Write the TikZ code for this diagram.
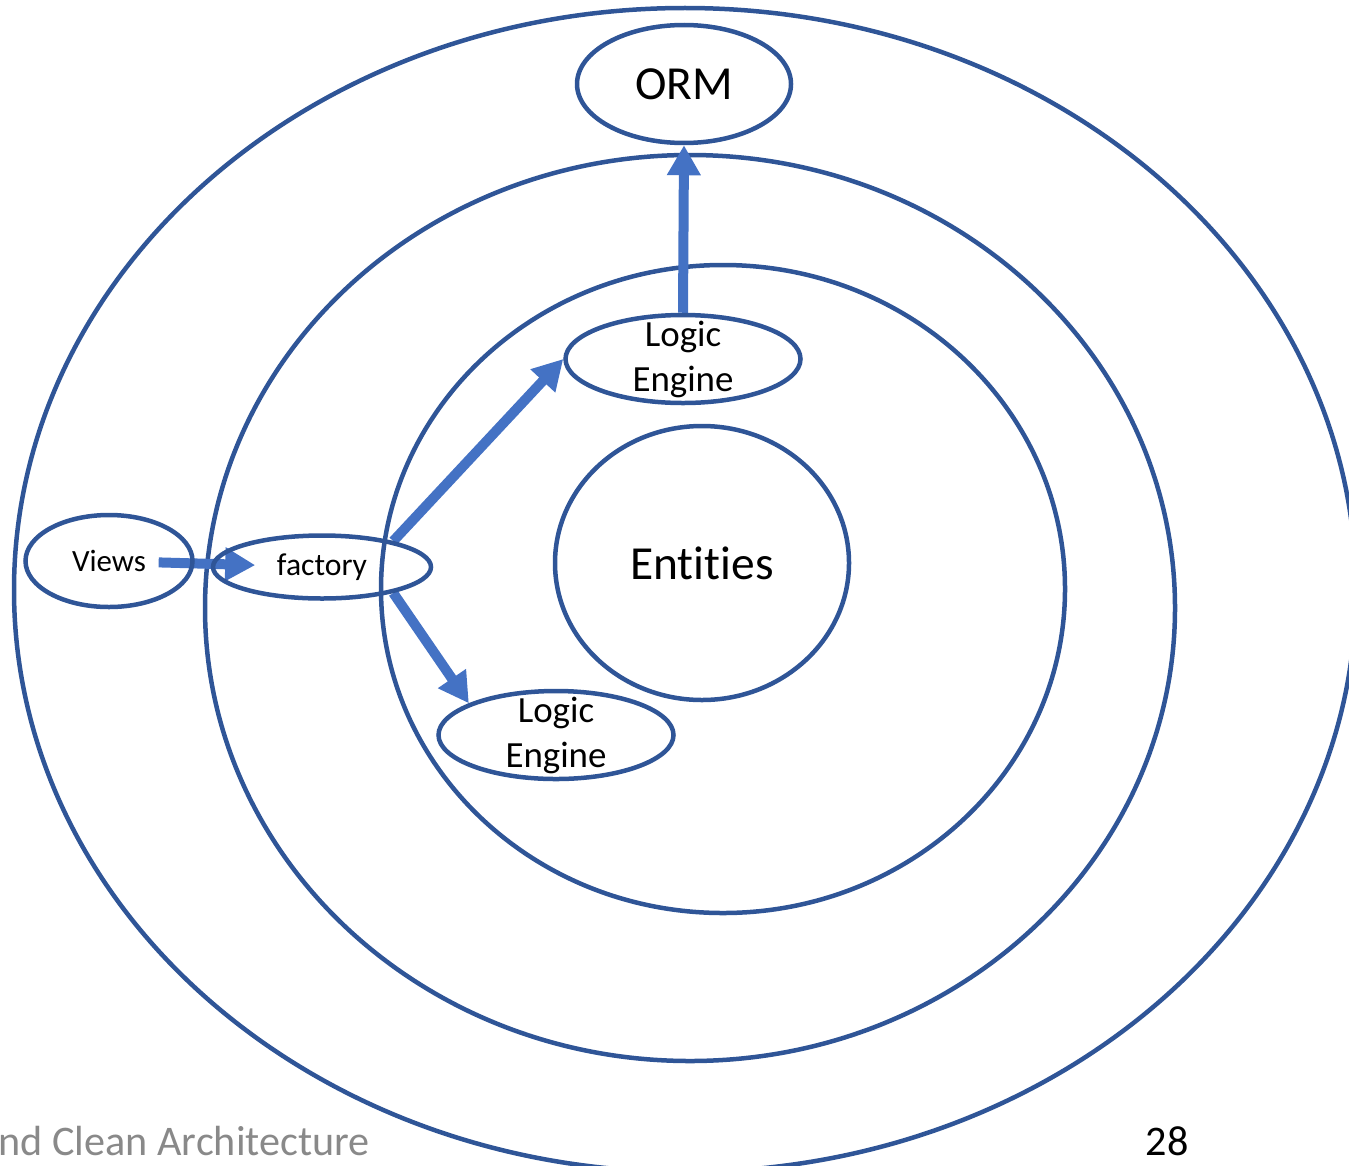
\documentclass[tikz,border=0pt]{standalone}
\usepackage{fontspec}
\setmainfont{Carlito}[Ligatures={NoCommon,NoContextual}]
\usepackage{xcolor}
\usepackage{tikz}
\usetikzlibrary{
  shapes.geometric, arrows.meta, positioning, backgrounds
}
\definecolor{ringblue}{HTML}{2F5597}
\definecolor{flowblue}{HTML}{4472C4}
\definecolor{footgray}{HTML}{898989}
\tikzset{
  ring/.style={
    draw=ringblue, line width=0.045cm
  },
  layerbox/.style={
    ellipse, draw=ringblue, line width=0.045cm, inner sep=0pt,
    align=center, font=\fontsize{10.5}{12.8}\selectfont
  },
  enginebox/.style={
    layerbox, inner ysep=-0.13cm, minimum width=2.35cm, minimum height=0.88cm
  },
  flowarrow/.style={
    -{Triangle[length=0.3cm, width=0.32cm]}, line width=0.1cm, color=flowblue
  },
  footlabel/.style={
    anchor=base west, font=\fontsize{12}{14}\selectfont, inner sep=0pt
  },
}
\begin{document}
\begin{tikzpicture}
  \useasboundingbox (0,0) rectangle (13.49,11.65);
  \clip (0,0) rectangle (13.49,11.65);

  \node[layerbox, minimum width=2.94cm, minimum height=2.74cm,
    font=\fontsize{13.5}{16}\selectfont] (entities) at (7.02,6.02) {Entities};
  \node[layerbox, minimum width=2.14cm, minimum height=1.18cm,
    font=\fontsize{13.5}{16}\selectfont] (orm) at (6.84,10.81) {ORM};
  \node[enginebox] (logictop) at (6.83,8.06) {Logic\\Engine};
  \node[enginebox] (logicbot) at (5.56,4.30) {Logic\\Engine};
  \node[layerbox, minimum width=1.67cm, minimum height=0.92cm,
    font=\fontsize{8.8}{10}\selectfont] (views) at (1.09,6.04) {Views};
  \node[layerbox, minimum width=2.18cm, minimum height=0.63cm,
    font=\fontsize{9}{10}\selectfont] (factory) at (3.22,5.98) {factory};

  \node[footlabel, text=footgray] (foottitle) at (-0.02,0.10) {nd Clean Architecture};
  \node[footlabel] (pagenum) at (11.45,0.10) {28};

  \begin{pgfonlayer}{background}
    \draw[ring] (6.85,5.75) ellipse [x radius=6.71, y radius=5.82];
    \draw[ring] (6.90,5.57) ellipse [x radius=4.85, y radius=4.53];
    \draw[ring] (7.23,5.76) ellipse [x radius=3.42, y radius=3.24];

    \draw[flowarrow, shorten <=-0.36cm, shorten >=-0.44cm] (views) -- (factory);
    \draw[flowarrow] (factory.20) -- (logictop.west);
    \draw[flowarrow] (factory.-20) -- (logicbot.160);
    \draw[flowarrow] (logictop.north) -- (orm.south);
  \end{pgfonlayer}
\end{tikzpicture}
\end{document}
